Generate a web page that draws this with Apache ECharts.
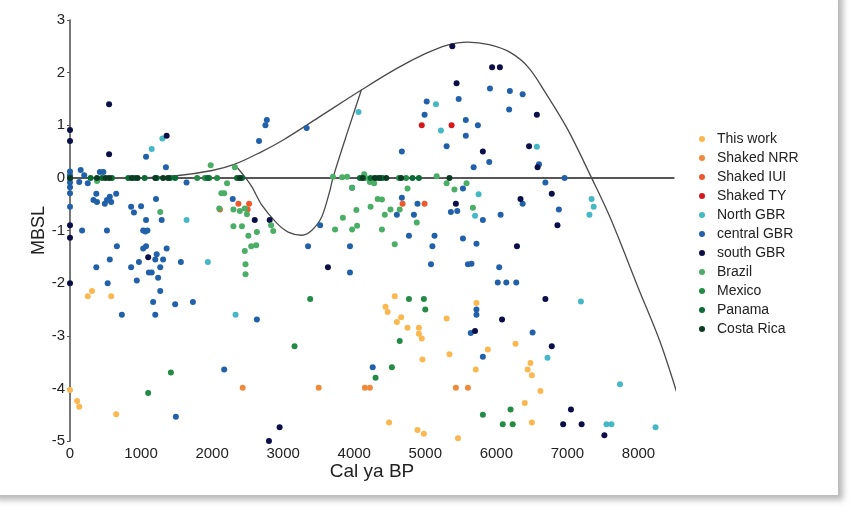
<!DOCTYPE html>
<html>
<head>
<meta charset="utf-8">
<script src="https://cdn.jsdelivr.net/npm/echarts@6/dist/echarts.min.js"></script>
<style>
  html, body { margin: 0; padding: 0; background: #ffffff; width: 853px; height: 512px; overflow: hidden; }
  #card { position: absolute; left: -10px; top: -10px; width: 848px; height: 505px; background: #ffffff;
          box-shadow: 5px 5px 6px rgba(0,0,0,0.28); }
  #chart { position: absolute; left: 0; top: 0; width: 838px; height: 495px; }
</style>
</head>
<body>
<div id="card"></div>
<div id="chart"></div>
<script>
// ---- data: [age (cal yr BP), MBSL] ----
const seriesNames = ['This work','Shaked NRR','Shaked IUI','Shaked TY','North GBR','central GBR','south GBR','Brazil','Mexico','Panama','Costa Rica'];
const seriesColors = ['#fbb850','#f08a3a','#ec5a2c','#d3191c','#45b8c6','#2161a9','#0b0f47','#4aae66','#238b45','#0a6b35','#0b3b22'];

const thisWork = [[250,-2.25],[310,-2.15],[580,-2.25],[0,-4.03],[100,-4.24],[130,-4.35],[650,-4.49],
  [4570,-2.25],[4440,-2.45],[4470,-2.55],[4660,-2.65],[4600,-2.74],[4750,-2.85],[4910,-2.85],[4910,-2.96],
  [4950,-3.05],[5300,-2.67],[5720,-2.38],[4960,-3.45],[5340,-3.35],[5710,-3.64],[5880,-3.26],[6270,-3.15],
  [6480,-3.52],[6440,-3.64],[6500,-3.75],[6620,-4.05],[6400,-4.28],[6500,-4.65],[4490,-4.65],[4890,-4.79],
  [4980,-4.86],[5460,-4.95]];
const shakedNRR = [[2430,-3.99],[3500,-3.99],[4150,-3.99],[4220,-3.99],[5430,-3.99],[5600,-3.99]];
const shakedIUI = [[2370,-0.49],[2520,-0.49],[2500,-0.6],[2110,-0.6],[4680,-0.49],[4990,-0.49]];
const shakedTY = [[4950,1.0],[5370,1.0]];
const northGBR = [[1150,0.55],[1300,0.75],[1640,-0.8],[1940,-1.6],[2330,-2.6],[4060,1.25],[5150,1.4],
  [5220,0.9],[6570,0.59],[5750,-0.31],[5700,-0.72],[7340,-0.4],[7370,-0.55],[7310,-0.7],[7190,-2.35],
  [6720,-3.42],[7740,-3.92],[7550,-4.68],[7620,-4.68],[8240,-4.74]];
const centralGBR = [[0,0.12],[0,0.05],[0,-0.01],[0,-0.09],[0,-0.18],[0,-0.29],[0,-0.55],
  [150,0.15],[200,0.05],[130,-0.08],[250,-0.1],[370,-0.3],[330,-0.42],[380,-0.46],[420,0.11],[470,0.11],
  [490,-0.49],[520,-0.42],[560,-0.36],[580,-0.46],[650,-0.3],[170,-1.0],[520,-1.0],[660,-1.3],[860,-0.55],
  [900,-0.66],[1000,-0.54],[1070,-0.8],[1290,-0.8],[1030,-1.0],[1060,-1.02],[1090,-1.0],[1030,-1.34],
  [1070,-1.3],[1360,-1.34],[1070,0.4],[1210,-0.4],[1350,0.2],[1640,-0.09],
  [1220,-1.45],[1200,-1.55],[1310,-1.55],[560,-1.55],[1560,-1.6],[860,-1.7],[970,-1.6],[370,-1.7],
  [1270,-1.7],[1110,-1.8],[1150,-1.8],[1240,-1.9],[940,-1.95],[530,-2.0],[1270,-2.15],[1170,-2.36],
  [1480,-2.4],[1730,-2.36],[730,-2.6],[1200,-2.6],[2170,-3.64],[1490,-4.54],[2630,-2.69],[2660,0.7],
  [2750,1.0],[2770,1.1],[2290,-0.4],[3520,-0.9],[3350,-1.3],[3940,-1.3],[3970,-0.19],
  [3330,0.95],[4670,0.5],[5020,1.45],[4990,1.2],[5470,1.5],[5570,1.1],[5570,0.8],[5740,1.0],[5300,0.6],
  [5910,1.7],[6190,1.65],[6370,1.59],[6180,1.3],[5680,0.2],[5900,0.3],[6600,0.26],[6690,-0.09],[6960,0],
  [5530,-0.2],[4670,-0.38],[4890,-0.49],[4600,-0.7],[4840,-0.7],[5360,-0.65],[5450,-0.63],[5810,-0.8],
  [6060,-0.7],[6370,-0.49],[6880,-0.6],[4770,-1.1],[5130,-1.1],[5100,-1.3],[5530,-1.15],[5720,-1.25],
  [3940,-1.8],[5080,-1.64],[5600,-1.64],[5650,-1.63],[6040,-1.7],[6020,-1.99],[6140,-1.99],[6280,-1.99],
  [5720,-2.5],[5720,-2.6],[5640,-2.95],[6510,-2.94],[5810,-3.4],[4260,-3.6]];
const southGBR = [[0,0.91],[0,0.7],[0,-0.9],[0,-1.14],[0,-2.0],[550,1.4],[550,0.45],[1360,0.8],[2600,-0.8],
  [2810,-0.8],[1100,-1.51],[2950,-4.74],[2800,-5.0],[3630,-1.7],[5380,2.5],[5940,2.1],[6050,2.1],[5440,1.8],
  [6570,1.2],[6460,0.6],[5810,0.5],[6580,0.2],[5430,-0.49],[6340,-0.4],[6780,-0.3],[6860,-0.9],[6290,-1.3],
  [5700,-2.91],[6080,-2.69],[6690,-2.3],[6780,-3.2],[7050,-4.4],[6940,-4.68],[7200,-4.68],[7520,-4.89]];
const brazil = [[380,-0.06],[1270,-0.65],[1980,0.24],[2320,0.2],[2210,-0.1],[2130,-0.29],[2170,-0.29],
  [2100,-0.58],[2300,-0.6],[2390,-0.63],[2460,-0.58],[2490,-0.69],[2300,-0.92],[2420,-0.92],[2630,-1.03],
  [2510,-1.1],[2830,-0.9],[2860,-1.01],[2620,-1.28],[2550,-1.3],[2460,-1.39],[2470,-1.64],[2470,-1.83],
  [3700,0.02],[3830,0.01],[3900,0.02],[4140,0.07],[4160,0],[4220,-0.08],[4280,-0.1],[4310,0],[4390,0],
  [5160,0.03],[3970,-0.19],[4750,-0.2],[5300,-0.1],[5410,-0.22],[5580,-0.1],[4330,-0.4],[4390,-0.41],
  [4230,-0.55],[4030,-0.61],[4510,-0.6],[4640,-0.6],[4430,-0.7],[3840,-0.76],[4040,-0.91],[3970,-0.98],
  [3730,-0.98],[4390,-0.98],[4880,-0.85],[5670,-0.57],[4570,-1.26]];
const mexico = [[1420,-3.7],[1100,-4.09],[3160,-3.2],[3380,-2.3],[4770,-2.3],[4980,-2.3],[5000,-2.5],
  [4640,-3.1],[4530,-3.6],[4300,-3.8],[5810,-4.5],[6200,-4.4],[6090,-4.68],[6230,-4.68],
  [1790,0],[1900,0],[1960,0],[2070,0],[4630,0],[4730,0]];
const panama = [[290,0],[450,0],[590,0],[820,0],[910,0],[1050,0],[1220,0],[1410,0],[1480,0],[2350,0],
  [2420,0],[1940,0],[4080,0],[4230,0],[4390,0],[4820,0],[4910,0]];
const costaRica = [[0,0],[380,0],[500,0],[550,0],[870,0],[950,0],[1200,0],[1310,0],[1380,0],[2390,0],
  [4120,0],[4290,0],[4350,0],[4450,0],[4660,0],[5340,0]];

// sea-level envelope curve and inner loop
const envelope = [[1000,0],[1500,0.04],[2000,0.14],[2320,0.26],[2700,0.5],[3000,0.72],[3500,1.15],
  [4100,1.67],[4600,2.08],[5000,2.36],[5300,2.52],[5600,2.58],[5900,2.53],[6200,2.38],[6450,2.1],
  [6700,1.6],[7000,0.93],[7340,0],[7600,-0.75],[8000,-2.1],[8300,-3.1],[8560,-4.17]];
const innerLoop = [[2320,0.25],[2460,0.02],[2560,-0.17],[2700,-0.52],[2910,-0.86],[3070,-1.03],
  [3260,-1.09],[3400,-1.0],[3540,-0.75],[3660,-0.23],[3700,0],[3900,0.85],[4100,1.67]];
const zeroLine = [[-250,0],[8500,0]];

const xTicks = {min: 0, max: 8500, interval: 1000};
const yTicks = {min: -5, max: 3, interval: 1};

const allData = [thisWork, shakedNRR, shakedIUI, shakedTY, northGBR, centralGBR, southGBR, brazil, mexico, panama, costaRica];

const FONT = "'Liberation Sans', Arial, sans-serif";
const chart = echarts.init(document.getElementById('chart'), null, {renderer: 'canvas'});

const series = [
  {type: 'line', name: 'zero', data: zeroLine, showSymbol: false, clip: false, silent: true,
   lineStyle: {color: '#4a4a4a', width: 1.5}, z: 1},
  {type: 'line', name: 'envelope', data: envelope, showSymbol: false, smooth: 0.35, clip: false, silent: true,
   lineStyle: {color: '#4a4a4a', width: 1.3}, z: 1},
  {type: 'line', name: 'loop', data: innerLoop, showSymbol: false, smooth: 0.3, clip: false, silent: true,
   lineStyle: {color: '#4a4a4a', width: 1.3}, z: 1}
];
seriesNames.forEach((n, i) => {
  series.push({type: 'scatter', name: n, data: allData[i], symbolSize: 6, clip: false,
    itemStyle: {color: seriesColors[i], opacity: 1}, z: 2 + i});
});

chart.setOption({
  animation: false,
  textStyle: {fontFamily: FONT},
  grid: {left: 70, top: 20, width: 604, height: 421},
  legend: {
    data: seriesNames, orient: 'vertical', left: 694, top: 127,
    icon: 'circle', itemWidth: 20, itemHeight: 6, itemGap: 5,
    textStyle: {fontFamily: FONT, fontSize: 14, color: '#222'}
  },
  xAxis: {
    type: 'value', min: xTicks.min, max: xTicks.max, interval: xTicks.interval,
    name: 'Cal ya BP', nameLocation: 'middle', nameGap: 21, nameMoveOverlap: false,
    nameTextStyle: {fontFamily: FONT, fontSize: 19, color: '#222'},
    axisLine: {show: true, lineStyle: {color: '#555', width: 1.6}},
    axisTick: {show: false},
    axisLabel: {fontFamily: FONT, fontSize: 15, color: '#222', margin: 5, showMaxLabel: false,
      formatter: v => String(v)},
    splitLine: {show: false}
  },
  yAxis: {
    type: 'value', min: yTicks.min, max: yTicks.max, interval: yTicks.interval,
    name: 'MBSL', nameLocation: 'middle', nameGap: 22, nameRotate: 90, nameMoveOverlap: false,
    nameTextStyle: {fontFamily: FONT, fontSize: 18, color: '#222'},
    axisLine: {show: true, lineStyle: {color: '#555', width: 1.6}},
    axisTick: {show: true, length: 3, lineStyle: {color: '#555'}},
    axisLabel: {fontFamily: FONT, fontSize: 15, color: '#222', margin: 5},
    splitLine: {show: false}
  },
  series: series
});
</script>
</body>
</html>
